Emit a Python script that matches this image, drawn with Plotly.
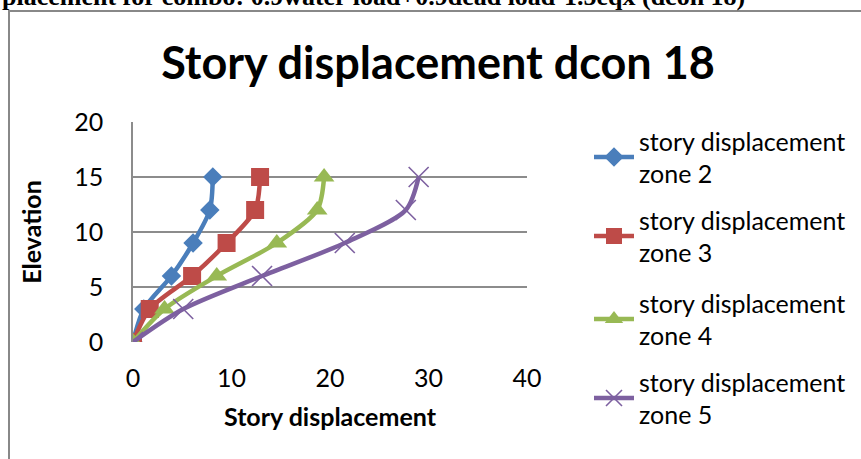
import plotly.graph_objects as go

elevation = [0, 3, 6, 9, 12, 15]
zone2 = [0, 1.1, 3.9, 6.1, 7.8, 8.1]
zone3 = [0, 1.7, 6.0, 9.5, 12.4, 12.9]
zone4 = [0, 3.2, 8.5, 14.6, 18.7, 19.4]
zone5 = [0, 5.1, 13.1, 21.5, 27.7, 29.0]

names = ["story displacement<br>zone 2", "story displacement<br>zone 3",
         "story displacement<br>zone 4", "story displacement<br>zone 5"]
colors = ["#4A7EBB", "#BE4B48", "#98B954", "#7D60A0"]
symbols = ["diamond", "square", "triangle-up", "x-thin"]
sizes = [15, 18, 18, 20]
legends = ["legend", "legend", "legend2", "legend2"]

W, H = 861, 459
L, R, T, B = 133, 527, 122, 342

def px(x):
    return (x - L) / (R - L)

def py(y):
    return (B - y) / (B - T)

FONT = "Lato"
fig = go.Figure()
for i, (xs, nm, c, s, sz, lg) in enumerate(zip([zone2, zone3, zone4, zone5], names, colors, symbols, sizes, legends)):
    mk = dict(symbol=s, size=sz, color=c)
    if s == "x-thin":
        mk["line"] = dict(color=c, width=1.6)
    fig.add_trace(go.Scatter(
        x=xs, y=elevation, name=nm, mode="lines+markers",
        line=dict(color=c, width=4.5, shape="spline", smoothing=0.8),
        marker=mk, legend=lg, legendgroup="g%d" % i,
    ))

leg_common = dict(xanchor="left", yanchor="top",
                  font=dict(family=FONT, size=25, color="black"),
                  tracegroupgap=11, itemwidth=40, bgcolor="rgba(0,0,0,0)")

fig.update_layout(
    width=W, height=H,
    margin=dict(l=L, r=W - R, t=T, b=H - B, pad=0, autoexpand=False),
    paper_bgcolor="white", plot_bgcolor="white",
    font=dict(family=FONT, color="black", size=25),
    showlegend=True,
    legend=dict(x=px(589), y=py(118), **leg_common),
    legend2=dict(x=px(589), y=py(280), **leg_common),
    xaxis=dict(range=[0, 40], tickvals=[0, 10, 20, 30, 40], showgrid=False,
               zeroline=False, showline=False, ticks="", ticklabelstandoff=19,
               tickfont=dict(size=25),
               title=dict(text="<b>Story displacement</b>", font=dict(size=25), standoff=17)),
    yaxis=dict(range=[0, 20], tickvals=[0, 5, 10, 15, 20], showgrid=True,
               gridcolor="#8C8C8C", gridwidth=1.6, zeroline=False,
               showline=True, linecolor="#8C8C8C", linewidth=1.6, ticks="",
               ticklabelstandoff=23, tickfont=dict(size=25),
               title=dict(text="<b>Elevation</b>", font=dict(size=25), standoff=25)),
    title=dict(text="<b>Story displacement dcon 18</b>", xref="paper", x=px(438), xanchor="center",
               yref="container", y=1 - 63 / H, yanchor="middle",
               font=dict(family=FONT, size=45, color="black")),
)

# chart box border
fig.add_shape(type="rect", xref="paper", yref="paper",
              x0=px(9), x1=px(870), y0=py(470), y1=py(11),
              line=dict(color="#888888", width=2), fillcolor="rgba(0,0,0,0)", layer="below")

# header text cut off at top
fig.add_annotation(text="<b>placement for combo: 0.9water load+0.9dead load-1.5eqx (dcon 18)</b>",
                   xref="paper", yref="paper", x=px(0), y=py(13), xanchor="left", yanchor="bottom",
                   showarrow=False, font=dict(family="Liberation Serif", size=26, color="black"))

fig.write_html("out.html", config={"displayModeBar": False},
               post_script="document.body.style.margin='0';")
